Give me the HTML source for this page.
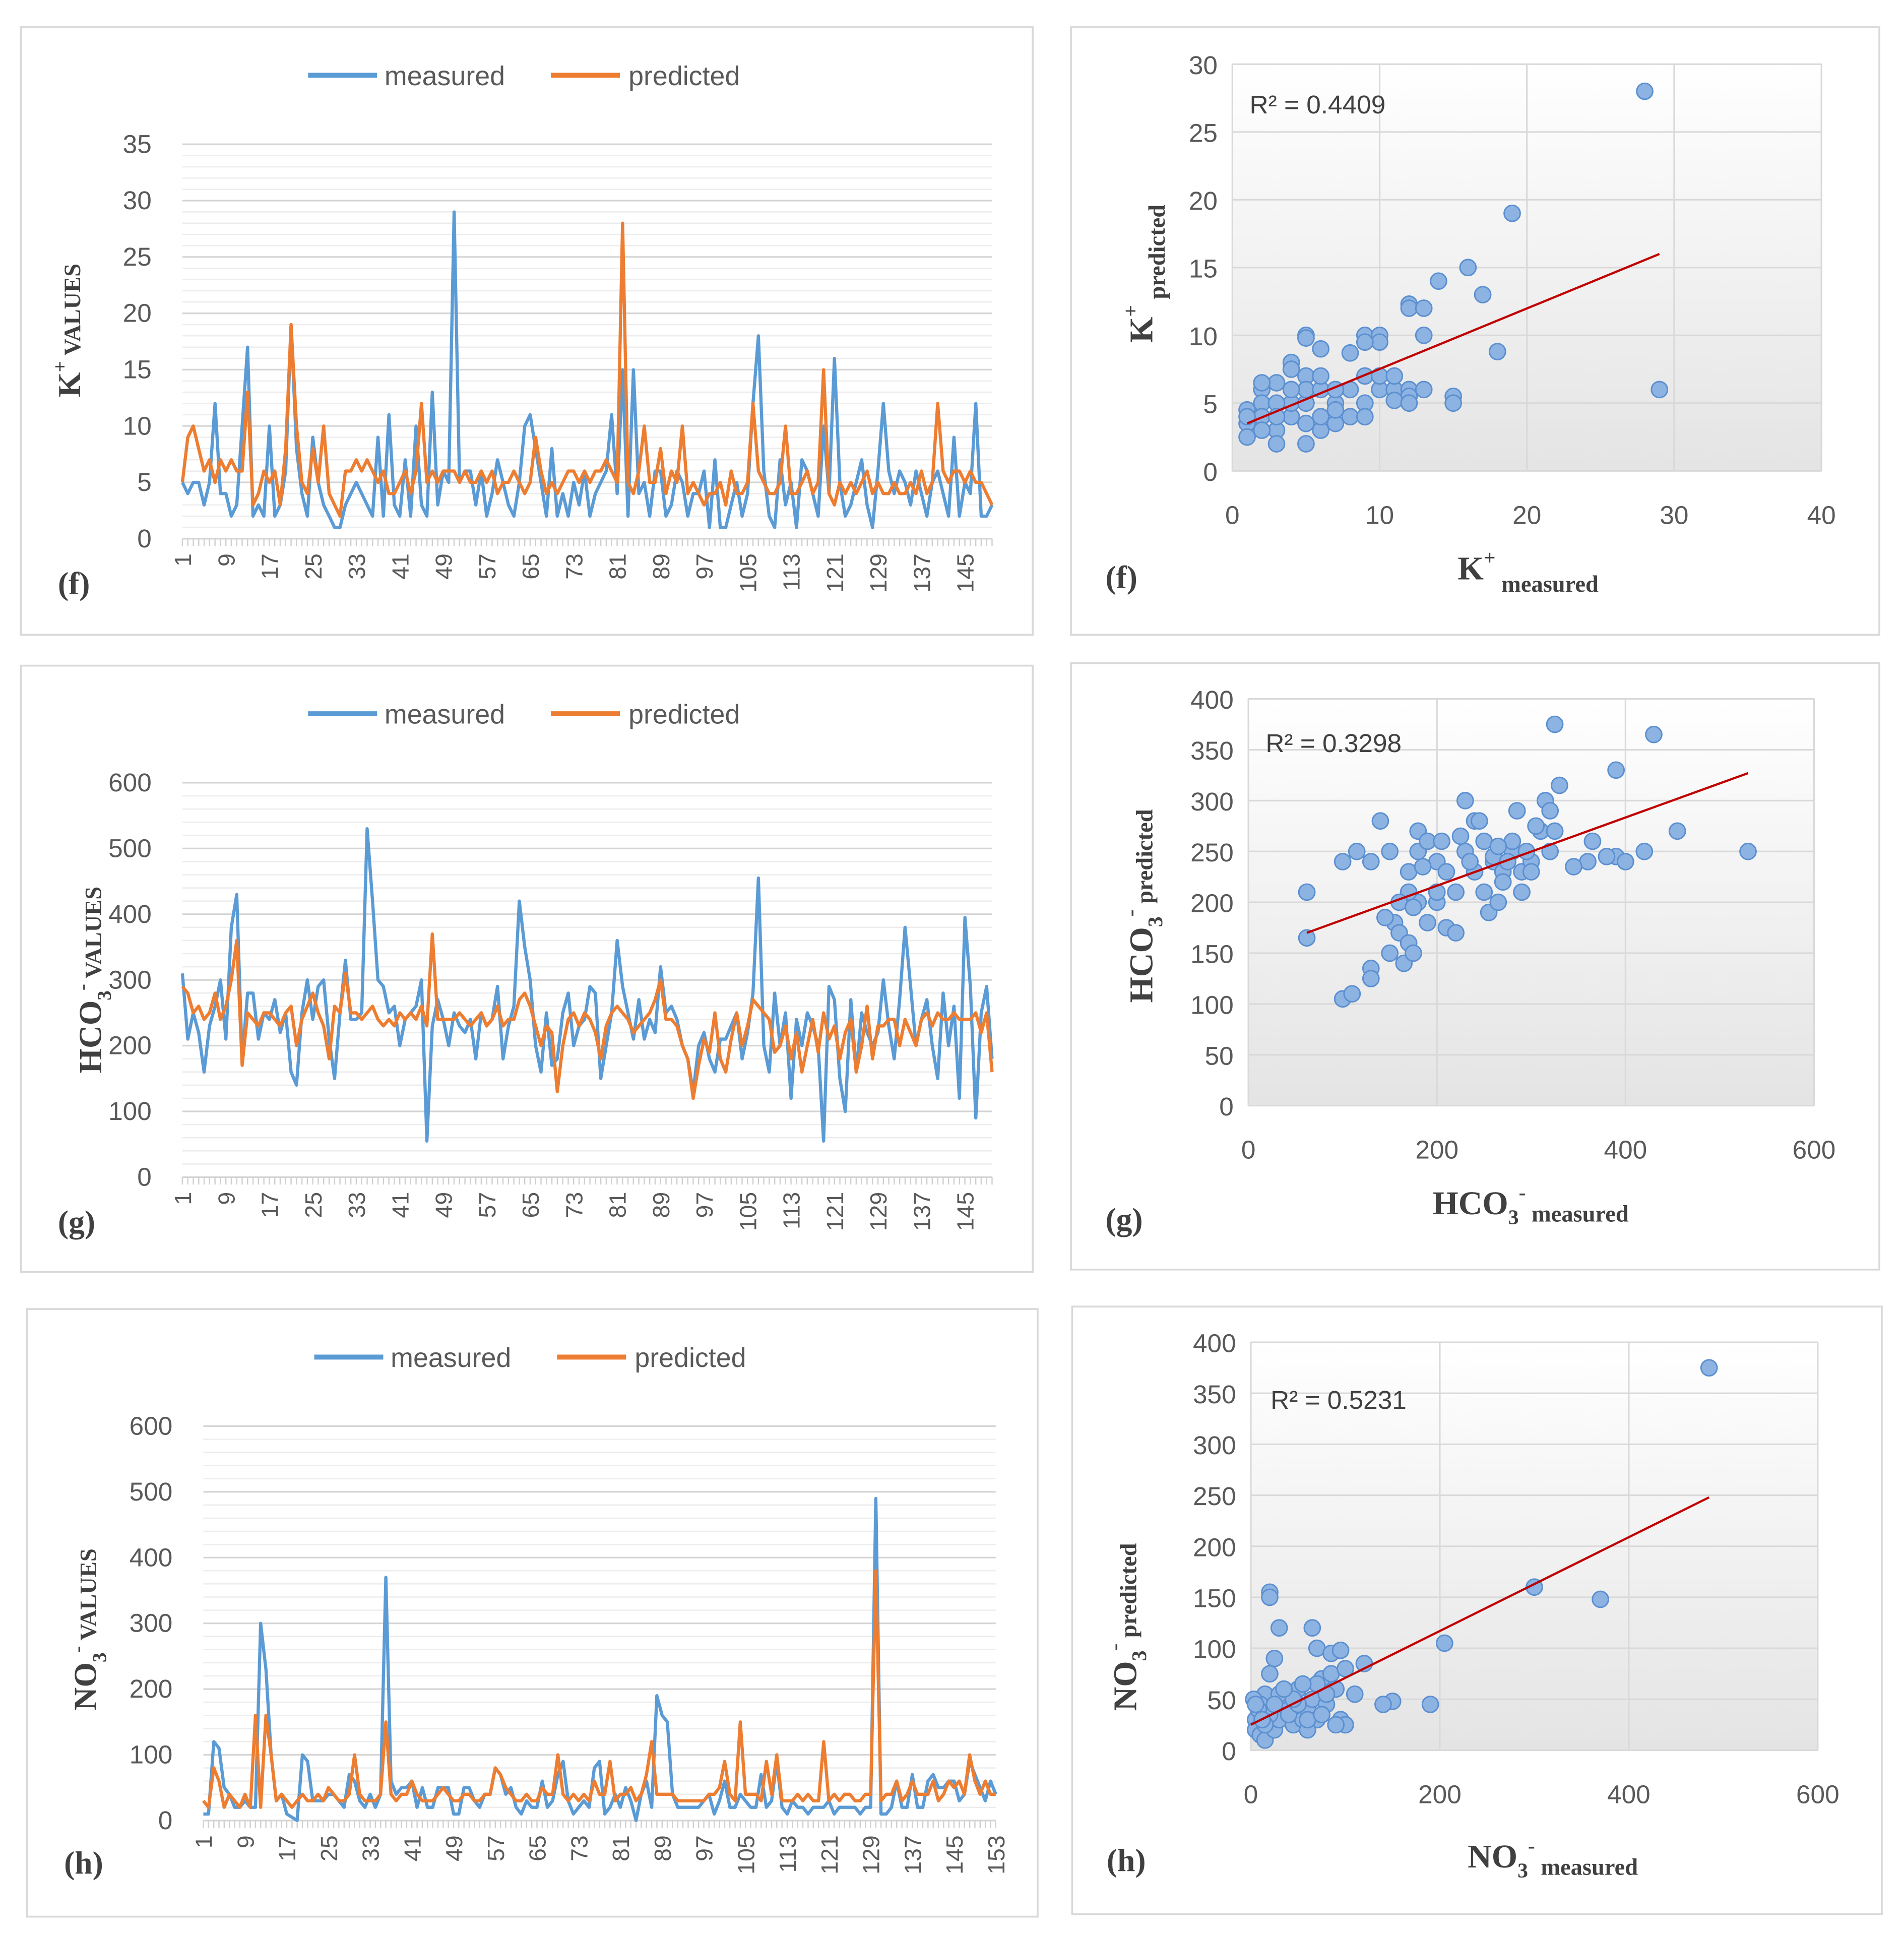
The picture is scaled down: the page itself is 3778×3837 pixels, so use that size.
<!DOCTYPE html>
<html><head><meta charset="utf-8"><style>
html,body{margin:0;padding:0;background:#fff;}
svg{display:block;}
text{font-family:"Liberation Sans",sans-serif;}
.ser{font-family:"Liberation Serif",serif;font-weight:bold;fill:#404040;}
</style></head><body>
<svg id="root" width="3778" height="3837" viewBox="0 0 1545 1569" xmlns="http://www.w3.org/2000/svg">
<defs>
<linearGradient id="bg" x1="0" y1="0" x2="0" y2="1"><stop offset="0" stop-color="#ffffff"/><stop offset="1" stop-color="#e4e4e4"/></linearGradient>
</defs>
</svg>
<script>
// ---------- DATA ----------
const kMeasured=[5,4,5,5,3,5,12,4,4,2,3,10,17,2,3,2,10,2,3,6,19,8,4,2,9,5,3,2,1,1,3,4,5,4,3,2,9,2,11,3,2,7,2,10,3,2,13,3,6,5,29,5,6,6,3,6,2,4,7,5,3,2,5,10,11,8,5,2,8,2,4,2,5,3,6,2,4,5,6,11,4,15,2,15,4,5,2,6,6,2,3,6,5,2,4,4,6,1,7,1,1,3,5,2,4,12,18,6,2,1,7,3,5,1,7,6,4,2,10,4,16,5,2,3,5,7,3,1,6,12,6,4,6,5,3,6,4,2,5,6,4,2,9,2,5,4,12,2,2,3];
const kPredicted=[5,9,10,8,6,7,5,7,6,7,6,6,13,3,4,6,5,6,3,8,19,10,5,4,8,5,10,4,3,2,6,6,7,6,7,6,5,6,4,4,5,6,4,6,12,5,6,5,6,6,6,5,6,5,5,6,5,6,4,5,5,6,5,4,5,9,6,4,5,4,5,6,6,5,6,5,6,6,7,6,5,28,5,4,6,10,5,5,8,4,6,5,10,4,5,4,3,4,4,5,3,6,4,4,5,12,6,5,4,4,5,10,4,4,5,6,4,5,15,4,3,5,4,5,4,5,6,4,5,4,4,5,4,4,5,4,6,4,5,12,6,5,6,6,5,6,5,5,4,3];
const hMeasured=[310,210,250,220,160,230,260,300,210,380,430,180,280,280,210,250,240,270,220,250,160,140,250,300,240,290,300,210,150,250,330,240,240,250,530,420,300,290,250,260,200,240,250,260,300,55,230,270,240,200,250,230,220,240,180,250,230,240,290,180,230,260,420,350,300,200,160,250,170,180,250,280,200,230,240,290,280,150,200,250,360,290,250,210,270,210,240,220,320,250,260,240,200,180,130,200,220,180,160,210,210,230,250,180,220,280,455,200,160,280,200,250,120,240,200,250,230,200,55,290,270,150,100,270,160,250,220,200,220,300,230,180,270,380,290,200,240,270,200,150,280,200,260,120,395,290,90,250,290,180];
const hPredicted=[290,280,250,260,240,250,280,240,260,300,360,170,250,240,230,250,250,240,230,250,260,200,240,260,280,250,230,180,260,250,310,250,250,240,250,260,240,230,240,230,250,240,250,240,260,230,370,240,240,240,240,250,240,230,240,250,230,240,260,230,240,240,270,280,260,230,200,230,220,130,200,240,250,230,250,240,220,180,230,250,260,250,240,220,230,240,250,270,300,240,240,230,200,180,120,170,210,190,250,180,160,210,250,200,230,270,260,250,240,190,200,230,180,220,160,200,240,190,250,210,230,180,220,240,160,200,260,180,230,230,240,240,200,240,220,200,240,250,230,250,240,240,250,240,240,240,250,220,250,160];
const nMeasured=[10,10,120,110,50,40,20,20,30,20,20,300,230,100,30,40,10,5,0,100,90,30,30,30,40,40,30,20,70,60,30,20,40,20,40,370,60,40,50,50,60,20,50,20,20,50,50,50,10,10,50,50,30,20,40,40,80,70,40,50,20,10,30,20,20,60,20,30,70,90,30,10,20,30,20,80,90,10,20,40,20,50,30,0,40,60,20,190,160,150,40,20,20,20,20,20,30,40,10,30,60,20,20,40,30,20,20,70,20,30,90,20,10,30,20,20,10,20,20,20,30,10,20,20,20,20,10,20,20,490,10,10,20,60,20,20,70,20,20,60,70,50,50,60,60,30,40,90,70,50,30,60,40];
const nPredicted=[30,20,80,60,20,40,30,20,40,20,160,20,160,100,30,40,30,20,30,40,30,30,40,30,50,40,30,30,40,100,40,30,30,30,40,150,40,30,40,40,60,40,30,30,30,40,50,40,30,30,40,40,30,30,40,40,80,70,50,40,30,30,40,30,30,50,40,40,100,40,30,40,30,40,30,60,40,40,90,30,40,40,50,30,40,70,120,40,40,40,40,30,30,30,30,30,30,40,40,50,90,40,30,150,40,40,40,30,90,40,100,30,30,30,40,30,40,30,30,120,30,40,30,40,40,30,30,40,40,380,30,40,40,60,30,40,60,40,40,40,60,30,40,60,50,60,40,100,60,40,60,40,40];
const kScatX=[28,19,16,14,17,12,12,13,13,18,29,15,15,5,5,9,10,10,6,8,9,4,4,5,3,2,1,1,1,2,2,3,3,5,6,6,7,7,8,8,9,9,10,10,11,11,12,12,13,4,4,5,5,6,6,7,3,3,2,1,2,4,9,7,5,11,12];
const kScatY=[28,19,15,14,13,12.3,12,12,10,8.8,6,5.5,5,10,9.8,10,10,9.5,9,8.7,9.5,8,7.5,7,6.5,6,4.5,3.5,2.5,5,4,3,2,2,3,4,5,3.5,4,6,5,7,6,7,6,7,6,5.5,6,4,5,5,6,6,7,6,5,4,3,4,6.5,6,4,4.5,3.5,5.2,5];
const hScatX=[62,62,100,110,100,115,140,150,130,130,130,150,155,160,165,170,175,170,180,180,190,200,200,210,220,230,230,240,245,250,255,260,265,270,280,285,290,290,300,310,315,320,325,330,325,320,300,360,365,390,390,400,420,430,455,530,180,190,170,210,220,240,250,260,270,280,200,160,145,175,185,235,205,225,265,275,295,305,345,380];
const hScatY=[210,165,105,110,240,250,280,250,240,135,125,150,180,170,140,160,150,230,250,270,260,200,240,175,210,250,300,280,280,260,190,240,200,230,250,290,230,210,240,270,300,290,375,315,270,250,230,240,260,330,245,240,250,365,270,250,200,180,210,230,170,230,210,245,220,260,210,200,185,195,235,240,260,265,255,240,250,275,235,245];
const nScatX=[485,300,370,205,190,150,140,20,20,30,65,70,85,95,25,20,15,10,5,5,10,15,25,30,35,40,45,50,55,60,65,70,75,80,85,90,95,100,110,120,100,90,60,40,30,20,8,3,50,80,70,55,45,35,25,15,5,12,60,75];
const nScatY=[375,160,148,105,45,48,45,155,150,120,120,100,95,98,90,75,55,45,30,20,15,10,20,30,45,40,25,60,30,40,50,30,70,45,75,60,30,80,55,85,25,25,20,35,55,35,40,50,45,55,65,65,50,60,45,25,45,30,30,35];
const kTicks=[0,5,10,15,20,25,30,35];
const hTicks=[0,100,200,300,400,500,600];
const kScatYTicks=[0,5,10,15,20,25,30], kScatXTicks=[0,10,20,30,40];
const hScatYTicks=[0,50,100,150,200,250,300,350,400], hScatXTicks=[0,200,400,600];
const kTrend=[1,3.5,29,16], hTrend=[62,170,530,327], nTrend=[0,25,485,248];
const kR2="R² = 0.4409", hR2="R² = 0.3298", nR2="R² = 0.5231";

// ---------- HELPERS ----------
const NS="http://www.w3.org/2000/svg";
const root=document.getElementById('root');
function mk(tag,attrs,parent,txt){const e=document.createElementNS(NS,tag);for(const k in attrs)e.setAttribute(k,attrs[k]);if(txt!==undefined)e.textContent=txt;(parent||root).appendChild(e);return e;}
function panel(x,y,w,h,name){const g=mk('g',{});mk('rect',{x:x,y:y,width:w,height:h,fill:'#fff',stroke:'#d9d9d9','stroke-width':1.5},g);return g;}

function lineChart(o){
  const g=panel(o.bx,o.by,o.bw,o.bh,o.name);
  const n=o.m.length;
  const sx=i=>o.x0+i*(o.x1-o.x0)/(n-1);
  const sy=v=>o.y0-(v/o.max)*(o.y0-o.y1);
  const grid=mk('g',{},g);
  for(let v=0;v<=o.max+1e-9;v+=o.minor){const y=sy(v);const major=Math.abs(v/o.major-Math.round(v/o.major))<1e-6;
    mk('line',{x1:o.x0,x2:o.x1,y1:y,y2:y,stroke:major?'#d4d4d4':'#ececec','stroke-width':major?1.3:1},grid);}
  const yt=mk('g',{},g);
  o.ticks.forEach(t=>{mk('text',{x:o.x0-25,y:sy(t)+7,'text-anchor':'end','font-size':21,fill:'#595959'},yt,t);});
  // x ticks minor marks
  for(let i=0;i<n;i++){mk('line',{x1:sx(i),x2:sx(i),y1:o.y0,y2:o.y0+6,stroke:'#d0d0d0','stroke-width':1},g);}
  const xt=mk('g',{},g);
  for(let i=0;i<n;i+=8){const x=sx(i)+7,y=o.y0+12;mk('text',{x:x,y:y,'text-anchor':'end','font-size':19,fill:'#595959',transform:`rotate(-90 ${x} ${y})`},xt,i+1);}
  const path=(arr)=>arr.map((v,i)=>(i?'L':'M')+sx(i).toFixed(1)+','+sy(v).toFixed(1)).join('');
  const pm=mk('path',{d:path(o.m),fill:'none',stroke:'#5b9bd5','stroke-width':2.6,'stroke-linejoin':'round'},g);
  
  const pp=mk('path',{d:path(o.p),fill:'none',stroke:'#ed7d31','stroke-width':2.6,'stroke-linejoin':'round'},g);
  
  // legend
  const lg=mk('g',{},g);
  mk('line',{x1:o.lx,x2:o.lx+56,y1:o.ly,y2:o.ly,stroke:'#5b9bd5','stroke-width':4},lg);
  mk('text',{x:o.lx+62,y:o.ly+8,'font-size':22,fill:'#595959'},lg,'measured');
  mk('line',{x1:o.lx+197,x2:o.lx+253,y1:o.ly,y2:o.ly,stroke:'#ed7d31','stroke-width':4},lg);
  mk('text',{x:o.lx+260,y:o.ly+8,'font-size':22,fill:'#595959'},lg,'predicted');
  // y title
  const tx=o.tx,ty=o.ty;
  const t=mk('text',{x:tx,y:ty,'text-anchor':'middle','font-size':26,class:'ser',transform:`rotate(-90 ${tx} ${ty})`},g);
  
  o.title(t);
  const pl=mk('text',{x:o.bx+30,y:o.labY,'font-size':26,class:'ser',fill:'#222'},g,o.lab);
  
}

function scatter(o){
  const g=panel(o.bx,o.by,o.bw,o.bh,o.name);
  const sx=v=>o.x0+v/o.xmax*(o.x1-o.x0);
  const sy=v=>o.y0-v/o.ymax*(o.y0-o.y1);
  mk('rect',{x:o.x0,y:o.y1,width:o.x1-o.x0,height:o.y0-o.y1,fill:'url(#bg)',stroke:'#d9d9d9'},g);
  o.yt.forEach(t=>{mk('line',{x1:o.x0,x2:o.x1,y1:sy(t),y2:sy(t),stroke:'#d9d9d9','stroke-width':1.3},g);
    mk('text',{x:o.x0-12,y:sy(t)+8,'text-anchor':'end','font-size':21,fill:'#595959'},g,t);});
  o.xt.forEach(t=>{mk('line',{x1:sx(t),x2:sx(t),y1:o.y0,y2:o.y1,stroke:'#d9d9d9','stroke-width':1.3},g);
    mk('text',{x:sx(t),y:o.y0+43,'text-anchor':'middle','font-size':21,fill:'#595959'},g,t);});
  const pts=mk('g',{},g);
  o.X.forEach((x,i)=>{const c=mk('circle',{cx:sx(x),cy:sy(o.Y[i]),r:6.5,fill:'#8db3e2',stroke:'#5b8fd0','stroke-width':1.2},pts);
    });
  const tl=mk('line',{x1:sx(o.tr[0]),y1:sy(o.tr[1]),x2:sx(o.tr[2]),y2:sy(o.tr[3]),stroke:'#c00000','stroke-width':1.8},g);
  
  const r=mk('text',{x:o.rx,y:o.ry,'font-size':21,fill:'#404040'},g,o.r2);
  
  const tx=o.tx,ty=o.ty;
  const yt=mk('text',{x:tx,y:ty,'text-anchor':'middle','font-size':27,class:'ser',transform:`rotate(-90 ${tx} ${ty})`},g);
  
  o.ytitle(yt);
  const xt=mk('text',{x:o.xtx,y:o.xty,'text-anchor':'middle','font-size':27,class:'ser'},g);
  
  o.xtitle(xt);
  const pl=mk('text',{x:o.bx+28,y:o.labY,'font-size':26,class:'ser',fill:'#222'},g,o.lab);
  
}
function sp(t,txt,attrs){const s=mk('tspan',attrs||{},t,txt);return s;}

// ---------- CHARTS ----------
lineChart({name:'k-line-chart',bx:17,by:22,bw:821,bh:493,x0:148,x1:805,y0:437,y1:117,max:35,minor:1,major:5,ticks:kTicks,m:kMeasured,p:kPredicted,lx:250,ly:61,tx:65,ty:268,labY:482,lab:'(f)',
 title:t=>{sp(t,'K');sp(t,'+',{'font-size':16,dy:-11});sp(t,' VALUES',{'font-size':19,dy:11});}});
lineChart({name:'hco3-line-chart',bx:17,by:540,bw:821,bh:492,x0:148,x1:805,y0:955,y1:635,max:600,minor:20,major:100,ticks:hTicks,m:hMeasured,p:hPredicted,lx:250,ly:579,tx:82,ty:795,labY:1000,lab:'(g)',
 title:t=>{sp(t,'HCO');sp(t,'3',{'font-size':16,dy:8});sp(t,'-',{'font-size':16,dy:-18});sp(t,' VALUES',{'font-size':19,dy:10});}});
lineChart({name:'no3-line-chart',bx:22,by:1062,bw:820,bh:493,x0:165,x1:808,y0:1477,y1:1157,max:600,minor:20,major:100,ticks:hTicks,m:nMeasured,p:nPredicted,lx:255,ly:1101,tx:78,ty:1322,labY:1520,lab:'(h)',
 title:t=>{sp(t,'NO');sp(t,'3',{'font-size':16,dy:8});sp(t,'-',{'font-size':16,dy:-18});sp(t,' VALUES',{'font-size':19,dy:10});}});

scatter({name:'k-scatter',bx:869,by:22,bw:656,bh:493,x0:1000,x1:1478,y0:382,y1:52,xmax:40,ymax:30,yt:kScatYTicks,xt:kScatXTicks,X:kScatX,Y:kScatY,tr:kTrend,r2:kR2,rx:1014,ry:92,tx:935,ty:222,xtx:1240,xty:470,labY:477,lab:'(f)',
 ytitle:t=>{sp(t,'K');sp(t,'+',{'font-size':17,dy:-12});sp(t,' predicted',{'font-size':19,dy:22});},
 xtitle:t=>{sp(t,'K');sp(t,'+',{'font-size':17,dy:-12});sp(t,' measured',{'font-size':19,dy:22});}});
scatter({name:'hco3-scatter',bx:869,by:538,bw:656,bh:492,x0:1013,x1:1472,y0:897,y1:567,xmax:600,ymax:400,yt:hScatYTicks,xt:hScatXTicks,X:hScatX,Y:hScatY,tr:hTrend,r2:hR2,rx:1027,ry:610,tx:935,ty:735,xtx:1242,xty:985,labY:998,lab:'(g)',
 ytitle:t=>{sp(t,'HCO');sp(t,'3',{'font-size':17,dy:8});sp(t,'-',{'font-size':17,dy:-20});sp(t,' predicted',{'font-size':19,dy:12});},
 xtitle:t=>{sp(t,'HCO');sp(t,'3',{'font-size':17,dy:8});sp(t,'-',{'font-size':17,dy:-20});sp(t,' measured',{'font-size':19,dy:18});}});
scatter({name:'no3-scatter',bx:870,by:1060,bw:657,bh:493,x0:1015,x1:1475,y0:1420,y1:1089,xmax:600,ymax:400,yt:hScatYTicks,xt:hScatXTicks,X:nScatX,Y:nScatY,tr:nTrend,r2:nR2,rx:1031,ry:1143,tx:922,ty:1320,xtx:1260,xty:1515,labY:1518,lab:'(h)',
 ytitle:t=>{sp(t,'NO');sp(t,'3',{'font-size':17,dy:8});sp(t,'-',{'font-size':17,dy:-20});sp(t,' predicted',{'font-size':19,dy:12});},
 xtitle:t=>{sp(t,'NO');sp(t,'3',{'font-size':17,dy:8});sp(t,'-',{'font-size':17,dy:-20});sp(t,' measured',{'font-size':19,dy:18});}});
</script>
</body></html>
